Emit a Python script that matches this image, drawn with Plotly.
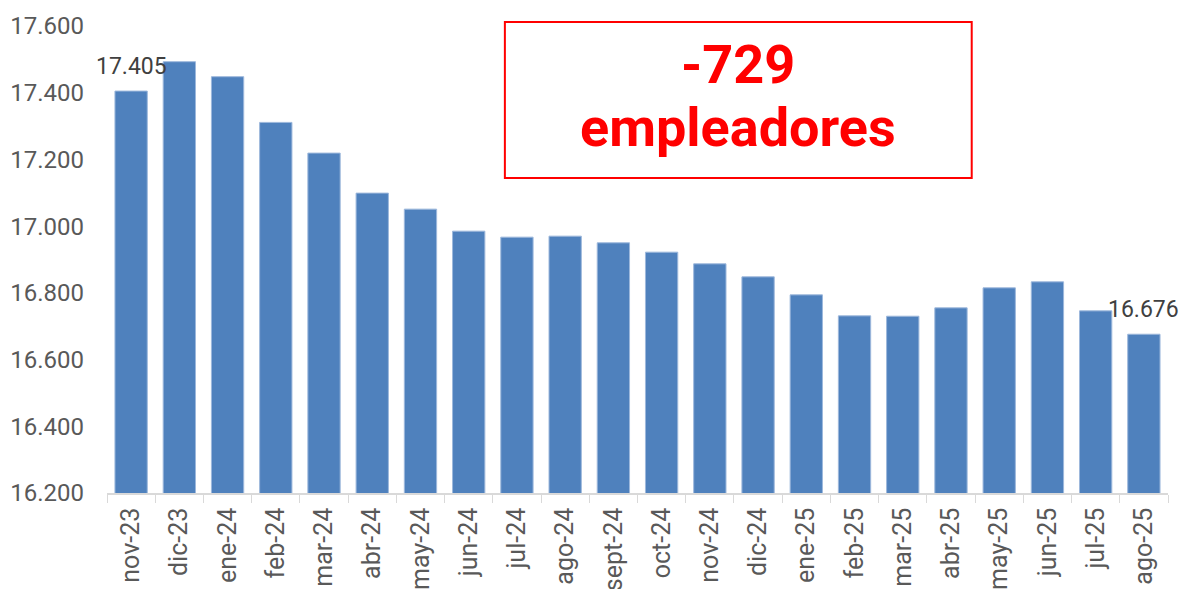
import plotly.graph_objects as go

months = ["nov-23", "dic-23", "ene-24", "feb-24", "mar-24", "abr-24", "may-24",
          "jun-24", "jul-24", "ago-24", "sept-24", "oct-24", "nov-24", "dic-24",
          "ene-25", "feb-25", "mar-25", "abr-25", "may-25", "jun-25", "jul-25", "ago-25"]
employers = [17405, 17493, 17448, 17311, 17219, 17099, 17051,
             16985, 16967, 16970, 16950, 16922, 16887, 16848,
             16794, 16731, 16730, 16755, 16815, 16833, 16746, 16676]
y_ticks = [16200, 16400, 16600, 16800, 17000, 17200, 17400, 17600]
labelled = [0, len(months) - 1]
box_lines = ["-729", "empleadores"]

FONT = "Roboto"
fig = go.Figure()
fig.add_trace(go.Bar(
    x=months, y=employers,
    marker=dict(color="#4F81BD", line=dict(color="#9DB8DC", width=1)),
    hoverinfo="x+y",
))

for i in labelled:
    fig.add_annotation(
        x=months[i], y=employers[i], xref="x", yref="y",
        text=f"{employers[i]:,}".replace(",", "."),
        showarrow=False, yanchor="bottom", yshift=9,
        font=dict(family=FONT, size=23, color="#404040"),
    )

fig.add_shape(type="rect", xref="paper", yref="paper",
              x0=0.375, x1=0.815, y0=0.6745, y1=1.0086,
              line=dict(color="#FF0000", width=2), fillcolor="rgba(0,0,0,0)")
for txt, yp in zip(box_lines, [0.9165, 0.7837]):
    fig.add_annotation(
        xref="paper", yref="paper", x=0.595, y=yp,
        text=txt, showarrow=False,
        xanchor="center", yanchor="middle", align="center",
        font=dict(family=FONT, size=54, color="#FF0000", weight="bold"),
    )

fig.update_layout(
    width=1181, height=589,
    margin=dict(l=107, r=13, t=26, b=96, autoexpand=False),
    paper_bgcolor="white", plot_bgcolor="white",
    separators=",.",
    bargap=0.33,
    showlegend=False,
    font=dict(family=FONT, color="#595959", size=24),
    xaxis=dict(
        range=[-0.5, len(months) - 0.5],
        tickangle=-90, showline=True, linecolor="#D9D9D9", linewidth=1.5,
        ticks="outside", tickson="boundaries", ticklen=8, tickcolor="#D9D9D9",
        tickfont=dict(family=FONT, size=25, color="#595959"),
        ticklabelstandoff=3,
        automargin=False, showgrid=False,
    ),
    yaxis=dict(
        range=[16200, 17600], tickvals=y_ticks, tickformat=",d",
        showgrid=False, zeroline=False, showline=False,
        tickfont=dict(family=FONT, size=24, color="#595959"),
        ticklabelstandoff=22,
        automargin=False,
    ),
)

fig.write_html(
    "out.html",
    config={"displayModeBar": False},
    post_script="document.body.style.margin='0';document.body.style.overflow='hidden';",
)
